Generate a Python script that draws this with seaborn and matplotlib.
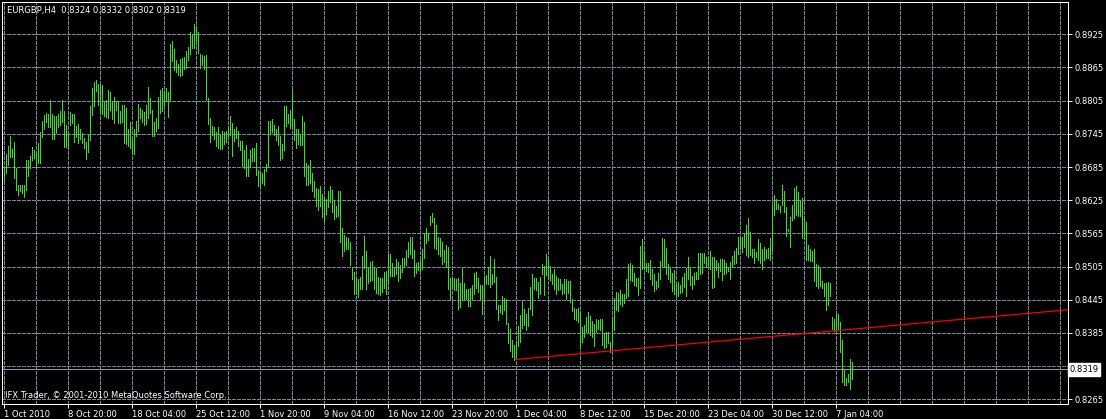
import numpy as np
import pandas as pd
import matplotlib
matplotlib.use("Agg")
import matplotlib.pyplot as plt
import matplotlib.transforms as mtransforms
import seaborn as sns

# --- data (one value per 4h bar) ---
symbol = "EURGBP,H4"
last_bar = [0.8324, 0.8332, 0.8302, 0.8319]  # open, high, low, close
current_price = 0.8319

high = [
    0.8685, 0.8709, 0.8723, 0.8741, 0.8718, 0.8730, 0.8684, 0.8653, 0.8653, 0.8653,
    0.8653, 0.8698, 0.8698, 0.8705, 0.8721, 0.8716, 0.8712, 0.8728, 0.8748, 0.8768,
    0.8779, 0.8783, 0.8781, 0.8807, 0.8781, 0.8777, 0.8777, 0.8781, 0.8786, 0.8807,
    0.8786, 0.8761, 0.8745, 0.8784, 0.8780, 0.8781, 0.8759, 0.8762, 0.8753, 0.8746,
    0.8737, 0.8731, 0.8743, 0.8795, 0.8828, 0.8839, 0.8843, 0.8835, 0.8833, 0.8833,
    0.8803, 0.8807, 0.8824, 0.8820, 0.8805, 0.8812, 0.8805, 0.8805, 0.8786, 0.8797,
    0.8798, 0.8791, 0.8753, 0.8767, 0.8735, 0.8753, 0.8768, 0.8799, 0.8792, 0.8789,
    0.8785, 0.8797, 0.8830, 0.8809, 0.8789, 0.8767, 0.8773, 0.8812, 0.8825, 0.8827,
    0.8823, 0.8827, 0.8821, 0.8907, 0.8913, 0.8899, 0.8879, 0.8871, 0.8881, 0.8883,
    0.8884, 0.8894, 0.8902, 0.8929, 0.8925, 0.8944, 0.8936, 0.8930, 0.8889, 0.8887,
    0.8885, 0.8888, 0.8809, 0.8773, 0.8760, 0.8758, 0.8749, 0.8758, 0.8744, 0.8750,
    0.8749, 0.8750, 0.8758, 0.8777, 0.8765, 0.8753, 0.8758, 0.8750, 0.8732, 0.8732,
    0.8715, 0.8724, 0.8700, 0.8716, 0.8720, 0.8720, 0.8728, 0.8680, 0.8678, 0.8674,
    0.8682, 0.8691, 0.8769, 0.8769, 0.8771, 0.8761, 0.8753, 0.8760, 0.8742, 0.8727,
    0.8796, 0.8796, 0.8780, 0.8789, 0.8824, 0.8771, 0.8753, 0.8753, 0.8745, 0.8778,
    0.8766, 0.8692, 0.8688, 0.8697, 0.8674, 0.8660, 0.8647, 0.8645, 0.8650, 0.8636,
    0.8630, 0.8627, 0.8642, 0.8650, 0.8644, 0.8624, 0.8614, 0.8642, 0.8641, 0.8574,
    0.8562, 0.8558, 0.8556, 0.8550, 0.8502, 0.8495, 0.8484, 0.8482, 0.8486, 0.8525,
    0.8561, 0.8533, 0.8502, 0.8513, 0.8515, 0.8502, 0.8502, 0.8487, 0.8485, 0.8485,
    0.8496, 0.8497, 0.8527, 0.8527, 0.8512, 0.8505, 0.8518, 0.8514, 0.8508, 0.8521,
    0.8520, 0.8535, 0.8550, 0.8559, 0.8559, 0.8535, 0.8512, 0.8514, 0.8517, 0.8536,
    0.8565, 0.8574, 0.8566, 0.8596, 0.8601, 0.8592, 0.8580, 0.8558, 0.8556, 0.8550,
    0.8535, 0.8544, 0.8541, 0.8484, 0.8485, 0.8485, 0.8482, 0.8485, 0.8476, 0.8503,
    0.8475, 0.8465, 0.8465, 0.8467, 0.8471, 0.8494, 0.8496, 0.8485, 0.8471, 0.8471,
    0.8488, 0.8490, 0.8504, 0.8524, 0.8491, 0.8518, 0.8486, 0.8435, 0.8436, 0.8452,
    0.8448, 0.8446, 0.8403, 0.8392, 0.8372, 0.8364, 0.8370, 0.8398, 0.8417, 0.8442,
    0.8428, 0.8420, 0.8430, 0.8468, 0.8492, 0.8485, 0.8485, 0.8478, 0.8486, 0.8509,
    0.8506, 0.8528, 0.8516, 0.8506, 0.8492, 0.8500, 0.8488, 0.8485, 0.8482, 0.8474,
    0.8483, 0.8483, 0.8479, 0.8479, 0.8446, 0.8430, 0.8428, 0.8430, 0.8422, 0.8396,
    0.8400, 0.8414, 0.8422, 0.8416, 0.8406, 0.8402, 0.8410, 0.8408, 0.8410, 0.8410,
    0.8384, 0.8386, 0.8386, 0.8369, 0.8412, 0.8448, 0.8459, 0.8458, 0.8462, 0.8456,
    0.8456, 0.8483, 0.8509, 0.8512, 0.8507, 0.8494, 0.8484, 0.8485, 0.8543, 0.8554,
    0.8533, 0.8511, 0.8511, 0.8517, 0.8501, 0.8491, 0.8479, 0.8494, 0.8515, 0.8557,
    0.8554, 0.8539, 0.8509, 0.8503, 0.8493, 0.8499, 0.8474, 0.8477, 0.8471, 0.8487,
    0.8493, 0.8503, 0.8523, 0.8505, 0.8488, 0.8494, 0.8495, 0.8529, 0.8529, 0.8529,
    0.8529, 0.8523, 0.8523, 0.8533, 0.8523, 0.8523, 0.8517, 0.8511, 0.8518, 0.8519,
    0.8517, 0.8511, 0.8504, 0.8513, 0.8525, 0.8533, 0.8539, 0.8559, 0.8561, 0.8559,
    0.8565, 0.8581, 0.8593, 0.8567, 0.8537, 0.8537, 0.8532, 0.8555, 0.8547, 0.8537,
    0.8541, 0.8537, 0.8539, 0.8556, 0.8616, 0.8634, 0.8627, 0.8619, 0.8615, 0.8652,
    0.8641, 0.8613, 0.8573, 0.8595, 0.8617, 0.8647, 0.8651, 0.8640, 0.8625, 0.8629,
    0.8593, 0.8586, 0.8544, 0.8537, 0.8533, 0.8537, 0.8509, 0.8507, 0.8503, 0.8479,
    0.8476, 0.8475, 0.8478, 0.8475, 0.8414, 0.8410, 0.8420, 0.8420, 0.8405, 0.8372,
    0.8318, 0.8304, 0.8311, 0.8338, 0.8332,
]

low = [
    0.8662, 0.8675, 0.8689, 0.8704, 0.8704, 0.8666, 0.8643, 0.8634, 0.8642, 0.8638,
    0.8630, 0.8644, 0.8668, 0.8683, 0.8698, 0.8701, 0.8685, 0.8693, 0.8693, 0.8740,
    0.8754, 0.8767, 0.8758, 0.8758, 0.8736, 0.8736, 0.8746, 0.8758, 0.8761, 0.8767,
    0.8722, 0.8721, 0.8717, 0.8761, 0.8764, 0.8731, 0.8739, 0.8729, 0.8735, 0.8729,
    0.8719, 0.8700, 0.8713, 0.8733, 0.8779, 0.8795, 0.8822, 0.8797, 0.8782, 0.8780,
    0.8777, 0.8776, 0.8773, 0.8789, 0.8772, 0.8764, 0.8788, 0.8765, 0.8764, 0.8767,
    0.8729, 0.8727, 0.8723, 0.8720, 0.8709, 0.8708, 0.8741, 0.8750, 0.8773, 0.8767,
    0.8761, 0.8763, 0.8774, 0.8782, 0.8741, 0.8741, 0.8750, 0.8755, 0.8783, 0.8786,
    0.8798, 0.8805, 0.8775, 0.8805, 0.8876, 0.8861, 0.8857, 0.8851, 0.8849, 0.8851,
    0.8863, 0.8864, 0.8879, 0.8889, 0.8901, 0.8900, 0.8912, 0.8891, 0.8864, 0.8870,
    0.8863, 0.8807, 0.8762, 0.8730, 0.8743, 0.8735, 0.8723, 0.8719, 0.8717, 0.8717,
    0.8727, 0.8731, 0.8741, 0.8743, 0.8705, 0.8732, 0.8737, 0.8723, 0.8715, 0.8687,
    0.8683, 0.8669, 0.8669, 0.8685, 0.8695, 0.8695, 0.8671, 0.8651, 0.8651, 0.8657,
    0.8653, 0.8678, 0.8686, 0.8745, 0.8748, 0.8743, 0.8734, 0.8725, 0.8697, 0.8701,
    0.8716, 0.8760, 0.8765, 0.8755, 0.8753, 0.8733, 0.8719, 0.8727, 0.8725, 0.8725,
    0.8668, 0.8653, 0.8653, 0.8657, 0.8641, 0.8630, 0.8614, 0.8608, 0.8615, 0.8594,
    0.8588, 0.8600, 0.8612, 0.8621, 0.8604, 0.8591, 0.8595, 0.8597, 0.8550, 0.8525,
    0.8534, 0.8536, 0.8536, 0.8507, 0.8482, 0.8456, 0.8456, 0.8450, 0.8464, 0.8464,
    0.8502, 0.8464, 0.8475, 0.8479, 0.8481, 0.8465, 0.8458, 0.8455, 0.8453, 0.8459,
    0.8467, 0.8455, 0.8475, 0.8488, 0.8488, 0.8488, 0.8491, 0.8479, 0.8485, 0.8496,
    0.8506, 0.8508, 0.8523, 0.8527, 0.8520, 0.8488, 0.8493, 0.8499, 0.8497, 0.8500,
    0.8520, 0.8548, 0.8553, 0.8580, 0.8586, 0.8538, 0.8536, 0.8527, 0.8524, 0.8509,
    0.8514, 0.8505, 0.8464, 0.8446, 0.8467, 0.8462, 0.8462, 0.8429, 0.8431, 0.8444,
    0.8447, 0.8446, 0.8434, 0.8434, 0.8446, 0.8456, 0.8467, 0.8459, 0.8444, 0.8420,
    0.8444, 0.8473, 0.8473, 0.8468, 0.8474, 0.8477, 0.8429, 0.8408, 0.8423, 0.8420,
    0.8426, 0.8402, 0.8366, 0.8352, 0.8342, 0.8336, 0.8338, 0.8362, 0.8369, 0.8394,
    0.8400, 0.8390, 0.8398, 0.8429, 0.8417, 0.8464, 0.8462, 0.8448, 0.8456, 0.8491,
    0.8454, 0.8489, 0.8483, 0.8480, 0.8474, 0.8464, 0.8456, 0.8462, 0.8464, 0.8456,
    0.8458, 0.8446, 0.8458, 0.8441, 0.8424, 0.8411, 0.8408, 0.8404, 0.8359, 0.8368,
    0.8378, 0.8386, 0.8386, 0.8382, 0.8378, 0.8362, 0.8386, 0.8392, 0.8390, 0.8364,
    0.8357, 0.8360, 0.8366, 0.8351, 0.8363, 0.8390, 0.8426, 0.8425, 0.8437, 0.8434,
    0.8439, 0.8449, 0.8452, 0.8480, 0.8479, 0.8471, 0.8470, 0.8453, 0.8467, 0.8501,
    0.8501, 0.8497, 0.8495, 0.8483, 0.8471, 0.8461, 0.8465, 0.8468, 0.8482, 0.8505,
    0.8505, 0.8491, 0.8483, 0.8477, 0.8461, 0.8455, 0.8453, 0.8452, 0.8458, 0.8459,
    0.8468, 0.8452, 0.8482, 0.8471, 0.8465, 0.8473, 0.8482, 0.8483, 0.8491, 0.8493,
    0.8511, 0.8505, 0.8507, 0.8501, 0.8467, 0.8468, 0.8499, 0.8486, 0.8497, 0.8480,
    0.8491, 0.8494, 0.8497, 0.8482, 0.8505, 0.8509, 0.8511, 0.8527, 0.8539, 0.8531,
    0.8541, 0.8526, 0.8523, 0.8526, 0.8523, 0.8511, 0.8523, 0.8517, 0.8512, 0.8500,
    0.8517, 0.8520, 0.8521, 0.8517, 0.8535, 0.8599, 0.8609, 0.8609, 0.8604, 0.8616,
    0.8604, 0.8561, 0.8569, 0.8541, 0.8589, 0.8592, 0.8598, 0.8597, 0.8597, 0.8557,
    0.8556, 0.8517, 0.8517, 0.8515, 0.8515, 0.8479, 0.8470, 0.8466, 0.8470, 0.8467,
    0.8452, 0.8426, 0.8435, 0.8452, 0.8392, 0.8388, 0.8390, 0.8390, 0.8351, 0.8297,
    0.8291, 0.8290, 0.8296, 0.8284, 0.8302,
]

# time axis labels, one every 32 bars (first bar on screen is 1 Oct 2010)
date_labels = [
    "1 Oct 2010", "8 Oct 20:00", "18 Oct 04:00", "25 Oct 12:00", "1 Nov 20:00",
    "9 Nov 04:00", "16 Nov 12:00", "23 Nov 20:00", "1 Dec 04:00", "8 Dec 12:00",
    "15 Dec 20:00", "23 Dec 04:00", "30 Dec 12:00", "7 Jan 04:00",
]
price_labels = [0.8925, 0.8865, 0.8805, 0.8745, 0.8685, 0.8625, 0.8565,
                0.8505, 0.8445, 0.8385, 0.8265]
hidden_price_grid = [0.8325]

# trend line anchors (bar index, price)
trend_bars = [256, 425]
trend_prices = [0.8337, 0.8392]

# --- style ---
BG = "black"
FG = "white"
GRID = "#778899"
BAR = "#3cdc28"
PX = 0.72  # one pixel in points at dpi 100

sns.set_theme(style="dark", rc={
    "axes.facecolor": BG,
    "figure.facecolor": BG,
    "savefig.facecolor": BG,
    "axes.edgecolor": FG,
    "text.color": FG,
    "xtick.color": FG,
    "ytick.color": FG,
})
plt.rcParams["font.family"] = ["DejaVu Sans"]

W, H = 1106, 419
fig = plt.figure(figsize=(W / 100, H / 100), dpi=100)
left, right, top, bottom = 2, 1068, 2, 404
ax = fig.add_axes([left / W, 1 - bottom / H, (right - left) / W, (bottom - top) / H])

bars = np.arange(len(high))
df = pd.DataFrame({
    "bar": np.repeat(bars, 2),
    "price": np.column_stack([low, high]).ravel(),
})

sns.lineplot(data=df, x="bar", y="price", units="bar", estimator=None,
             sort=False, color=BAR, linewidth=PX, antialiased=False, ax=ax)

# 2 pixels per bar
ax.set_xlim(-0.75, -0.75 + (right - left) / 2)
ax.set_ylim(0.82565, 0.89834)

# grid: vertical every 16 bars, labels every 32
ax.set_xticks(np.arange(len(date_labels)) * 32)
ax.set_xticklabels(date_labels)
ax.set_xticks(np.arange(0, ax.get_xlim()[1], 16), minor=True)
ax.set_yticks(price_labels)
ax.set_yticklabels([f"{p:.4f}" for p in price_labels])
ax.set_yticks(hidden_price_grid, minor=True)
ax.yaxis.tick_right()

grid_kw = dict(color=GRID, linewidth=PX, linestyle=(0, (3, 2)), antialiased=False)
ax.grid(True, which="both", axis="both", **grid_kw)
ax.set_axisbelow(True)

ax.tick_params(axis="x", which="major", length=3, width=PX, pad=1.5,
               labelsize=6, labelcolor=FG, direction="out", bottom=True)
ax.tick_params(axis="y", which="major", length=3, width=PX, pad=1.5,
               labelsize=6, labelcolor=FG, direction="out", right=True, left=False)
ax.tick_params(which="minor", length=0)
for lab in ax.get_xticklabels():
    lab.set_horizontalalignment("left")

for sp in ax.spines.values():
    sp.set_color(FG)
    sp.set_linewidth(PX)
    sp.set_visible(True)

ax.set_xlabel("")
ax.set_ylabel("")

# current price line + label box
ax.axhline(current_price, color="#8c9aa8", linewidth=PX, antialiased=False, zorder=1.5)
trans = mtransforms.blended_transform_factory(ax.transAxes, ax.transData)
ax.text(1.0015, current_price, f"{current_price:.4f}", transform=trans,
        fontsize=6, color="black", va="center", ha="left", clip_on=False,
        bbox=dict(boxstyle="square,pad=0.2", facecolor="white", edgecolor="white"),
        zorder=5)

# trend line extended to the right edge of the chart
slope = (trend_prices[1] - trend_prices[0]) / (trend_bars[1] - trend_bars[0])
x_end = ax.get_xlim()[1]
ax.plot([trend_bars[0], x_end],
        [trend_prices[0], trend_prices[0] + slope * (x_end - trend_bars[0])],
        color="red", linewidth=PX * 1.2, zorder=3)

# header and footer texts
fig.text(7 / W, 1 - 11 / H, f"{symbol}  " + " ".join(f"{v:.4f}" for v in last_bar),
         fontsize=6, color=FG, va="center", ha="left")
fig.text(5 / W, 1 - 395 / H, "IFX Trader, \u00a9 2001-2010 MetaQuotes Software Corp.",
         fontsize=6, color=FG, va="center", ha="left")

fig.savefig("out.png", dpi=100, facecolor=BG)
plt.close(fig)
